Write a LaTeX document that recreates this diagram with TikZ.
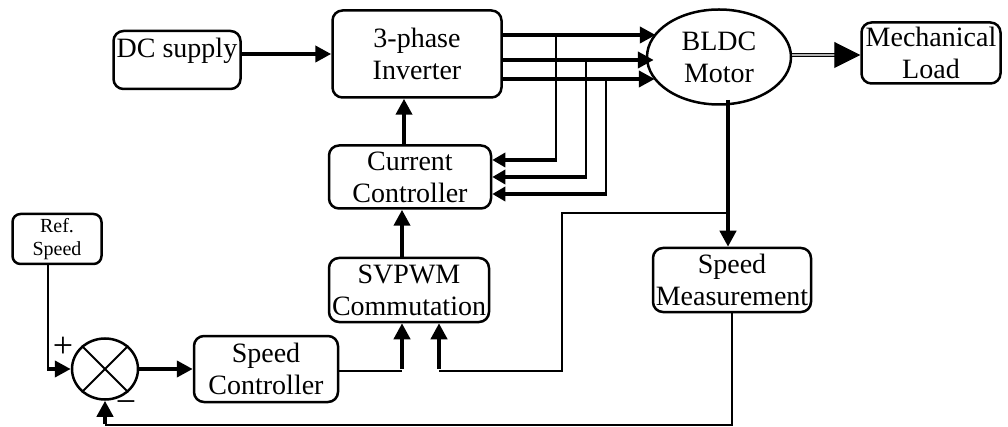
\documentclass[tikz,border=0pt]{standalone}
\usepackage{fontspec}
\setmainfont{Liberation Serif}
\usetikzlibrary{arrows.meta,shapes.geometric,calc}
\begin{document}
\begin{tikzpicture}[x=1pt,y=-1pt,
  blk/.style={draw,line width=2.5pt,rounded corners=10pt,align=center,
    font=\fontsize{28}{32}\selectfont,inner sep=0pt},
  oval/.style={draw,ellipse,line width=2.5pt,align=center,
    font=\fontsize{28}{32}\selectfont,inner sep=0pt},
  thk/.style={line width=4.5pt},
  mid/.style={line width=3.5pt},
  thn/.style={line width=2pt},
  arr/.style={-{Triangle[length=16pt,width=16pt]}},
  sarr/.style={-{Triangle[length=13pt,width=14pt]}},
  sgn/.style={font=\fontsize{36}{36}\selectfont,inner sep=0pt}]
\useasboundingbox (0,0) rectangle (1008,427);

% blocks
\node[blk,minimum width=127pt,minimum height=58pt,text height=23pt,text depth=27pt] (dc) at (177,60) {DC supply};
\node[blk,minimum width=169pt,minimum height=87pt] (inv) at (417,54) {3-phase\\Inverter};
\node[oval,minimum width=144pt,minimum height=95pt] (motor) at (719,57) {BLDC\\Motor};
\node[blk,minimum width=139pt,minimum height=61pt] (load) at (931,53) {Mechanical\\Load};
\node[blk,minimum width=162pt,minimum height=63pt] (cc) at (410,177) {Current\\Controller};
\node[blk,minimum width=160pt,minimum height=64pt] (sv) at (409,290) {SVPWM\\Commutation};
\node[blk,minimum width=158pt,minimum height=64pt] (sm) at (732,280) {Speed\\Measurement};
\node[blk,minimum width=144pt,minimum height=66pt] (sc) at (266,369) {Speed\\Controller};
\node[blk,rounded corners=8pt,minimum width=89pt,minimum height=50pt,
      font=\fontsize{20}{23}\selectfont] (ref) at (57,239) {Ref.\\Speed};
\node[draw,ellipse,line width=2.5pt,minimum width=66pt,minimum height=61pt,inner sep=0pt] (sum) at (105,369) {};
\draw[line width=2pt] (sum.135) -- (sum.-45) (sum.45) -- (sum.-135);
\node[sgn] (plus) at (63,347) {+};
\node[sgn] (minus) at (126,407) {−};

% DC supply -> inverter
\draw[thk,arr] (dc.east |- 0,54) -- (inv.west |- 0,54);

% inverter -> motor (three phases)
\coordinate (p1) at (inv.east |- 0,35);
\coordinate (p2) at (inv.east |- 0,60);
\coordinate (p3) at (inv.east |- 0,79);
\draw[thk,arr] (p1) -- ([xshift=10pt]motor.west |- p1);
\draw[thk,arr] (p2) -- ([xshift=8pt]motor.west |- p2);
\draw[thk,arr] (p3) -- ([xshift=9pt]motor.west |- p3);

% current feedback taps -> current controller
\coordinate (t1) at (556,35);
\coordinate (t2) at (586,60);
\coordinate (t3) at (606,79);
\draw[thn] (t1) -- (t1 |- 0,160);
\draw[thn] (t2) -- (t2 |- 0,177);
\draw[thn] (t3) -- (t3 |- 0,194);
\draw[mid,sarr] ([xshift=1pt]t1 |- 0,160) -- (cc.east |- 0,160);
\draw[mid,sarr] ([xshift=1pt]t2 |- 0,177) -- (cc.east |- 0,177);
\draw[mid,sarr] ([xshift=1pt]t3 |- 0,194) -- (cc.east |- 0,194);

% current controller -> inverter
\draw[thk,arr] ([xshift=-6pt]cc.north) -- ([xshift=-6pt]cc.north |- inv.south);
% SVPWM -> current controller
\draw[thk,arr] ([xshift=-7pt]sv.north) -- ([xshift=-7pt]sv.north |- cc.south);

% speed controller -> SVPWM
\coordinate (j1) at (402,371);
\draw[thn] (sc.east |- j1) -- (j1);
\draw[thk,arr] ([yshift=2pt]j1) -- (j1 |- sv.south);

% motor -> speed measurement, with branch to SVPWM
\coordinate (m1) at (728,100);
\coordinate (f1) at (728,213);
\draw[thk,arr] (m1) -- (m1 |- sm.north);
\coordinate (f2) at (439,371);
\draw[thn] (f1) -- (562,213) -- (562,371) -- (f2);
\draw[thk,arr] ([yshift=2pt]f2) -- (f2 |- sv.south);

% speed measurement -> summing junction
\coordinate (b1) at (sm.south |- 0,425);
\draw[thn] (sm.south) -- (b1) -- (sum.south |- b1);
\draw[thk,arr] ([yshift=1pt]sum.south |- b1) -- (sum.south);

% reference -> summing junction
\coordinate (r1) at (48,369);
\draw[thn] (r1 |- ref.south) -- (r1);
\draw[thk,arr] ([xshift=-1pt]r1) -- (sum.west |- r1);

% summing junction -> speed controller
\draw[thk,arr] (sum.east) -- (sc.west);

% motor -> mechanical load
\draw[line width=1pt,double=gray!60,double distance=2.5pt,
      -{Triangle[length=26pt,width=26pt,fill=black]}] (motor.east |- 0,55) -- (load.west |- 0,55);
\end{tikzpicture}
\end{document}
